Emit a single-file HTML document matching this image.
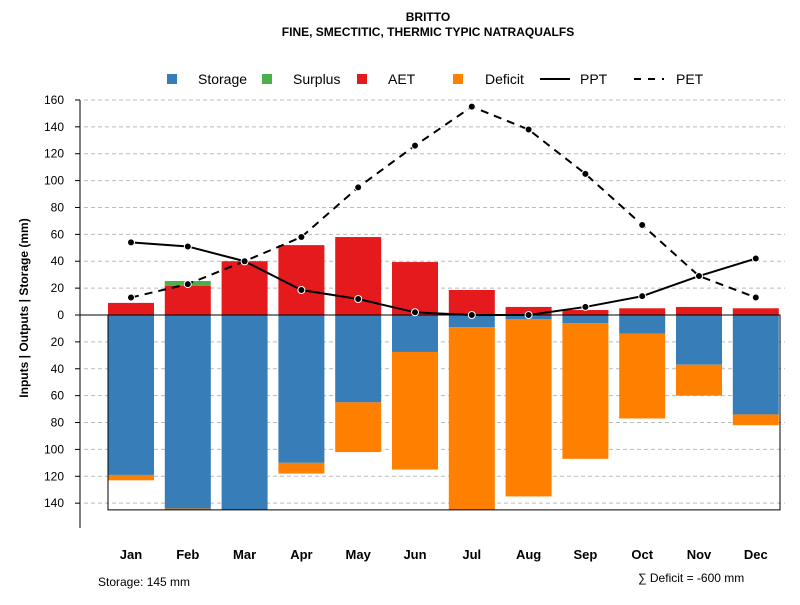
<!DOCTYPE html>
<html><head><meta charset="utf-8"><style>
body{margin:0;background:#fff;}
svg text{font-family:"Liberation Sans",sans-serif;}
</style></head><body>
<svg id="chart" width="800" height="600" xmlns="http://www.w3.org/2000/svg">
<text x="428" y="21" text-anchor="middle" font-size="12" font-weight="bold">BRITTO</text>
<text x="428" y="36" text-anchor="middle" font-size="12" font-weight="bold">FINE, SMECTITIC, THERMIC TYPIC NATRAQUALFS</text>
<g id="grid"></g>
<g id="bars"></g>
<g id="lines"></g>
<g id="axis"></g>
<g id="legend"></g>
<text transform="translate(28,308) rotate(-90)" text-anchor="middle" font-size="12" font-weight="bold">Inputs | Outputs | Storage    (mm)</text>
<text x="98" y="586" font-size="12">Storage: 145 mm</text>
<text x="638" y="582" font-size="12">∑ Deficit = -600 mm</text>
</svg>
<script>
const months=["Jan","Feb","Mar","Apr","May","Jun","Jul","Aug","Sep","Oct","Nov","Dec"];
const aet=[9,21.6,40,52,58,39.4,18.6,6,3.7,5,6,5];
const surplus=[0,3.7,0,0,0,0,0,0,0,0,0,0];
const storage=[119,144,145,110,65,27.5,9,3,6,14,37,74];
const deficit=[4,1,0,8,37,87.5,136,132,101,63,23,8];
const ppt=[54,51,40,18.6,11.9,2,0,0,6,14,29,42];
const pet=[13,23,40,58,95,126,155,138,105,67,29,13];
const yTicks=[160,140,120,100,80,60,40,20,0,-20,-40,-60,-80,-100,-120,-140];
const storageMax=145;
const NS="http://www.w3.org/2000/svg";
const y=v=>315-v*1.344;
const x=i=>131+i*56.8;
const bw=46;
function mk(tag,attrs,parent){const e=document.createElementNS(NS,tag);for(const k in attrs)e.setAttribute(k,attrs[k]);document.getElementById(parent).appendChild(e);return e;}
yTicks.forEach(t=>{
 if(t!==0){const g=mk("line",{x1:84,x2:785,y1:y(t),y2:y(t),stroke:"#bbb","stroke-dasharray":"4,3"},"grid");
 
 }
 const tk=mk("line",{x1:75,x2:80,y1:y(t),y2:y(t),stroke:"#000"},"axis");
 
 
 const tl=mk("text",{x:64,y:y(t)+4,"text-anchor":"end","font-size":"12"},"axis");tl.textContent=Math.abs(t);
 
 
});
const ax=mk("line",{x1:80,x2:80,y1:y(160),y2:528,stroke:"#000"},"axis");


function bar(i,v0,v1,col,name){const r=mk("rect",{x:x(i)-bw/2,y:Math.min(y(v0),y(v1)),width:bw,height:Math.abs(y(v0)-y(v1)),fill:col},"bars");
 
 }
months.forEach((m,i)=>{
 bar(i,0,aet[i],"#E41A1C","bar-aet-"+m.toLowerCase());
 if(surplus[i]>0)bar(i,aet[i],aet[i]+surplus[i],"#4DAF4A","bar-surplus-"+m.toLowerCase());
 bar(i,0,-storage[i],"#377EB8","bar-storage-"+m.toLowerCase());
 if(deficit[i]>0)bar(i,-storage[i],-storage[i]-deficit[i],"#FF7F00","bar-deficit-"+m.toLowerCase());
 const ml=mk("text",{x:x(i),y:559,"text-anchor":"middle","font-size":"13","font-weight":"bold"},"axis");ml.textContent=m;
 
 
});
const box=mk("rect",{x:108,y:y(0),width:672,height:y(-storageMax)-y(0),fill:"none",stroke:"#000"},"bars");


const zl=mk("line",{x1:80,x2:780,y1:y(0),y2:y(0),stroke:"#000"},"bars");


function series(arr,dash,name){
 const p=mk("polyline",{points:arr.map((v,i)=>x(i)+","+y(v)).join(" "),fill:"none",stroke:"#000","stroke-width":2,"stroke-dasharray":dash},"lines");
 
 
 arr.forEach((v,i)=>{const c=mk("circle",{cx:x(i),cy:y(v),r:3.5,fill:"#000",stroke:"#fff","stroke-width":1},"lines");
 
 });
}
series(pet,"8,6","pet");
series(ppt,"none","ppt");
const leg=[["Storage","#377EB8",167,198],["Surplus","#4DAF4A",262,293],["AET","#E41A1C",357,388],["Deficit","#FF7F00",453,485]];
leg.forEach(l=>{const r=mk("rect",{x:l[2],y:74,width:10,height:10,fill:l[1]},"legend");
 
 
 const t=mk("text",{x:l[3],y:84,"font-size":"14"},"legend");t.textContent=l[0];
 
 });
const l1=mk("line",{x1:540,x2:570,y1:79,y2:79,stroke:"#000","stroke-width":2},"legend");


const t1=mk("text",{x:580,y:84,"font-size":"14"},"legend");t1.textContent="PPT";


const l2=mk("line",{x1:634,x2:664,y1:79,y2:79,stroke:"#000","stroke-width":2,"stroke-dasharray":"7,7"},"legend");


const t2=mk("text",{x:676,y:84,"font-size":"14"},"legend");t2.textContent="PET";


</script>
</body></html>
